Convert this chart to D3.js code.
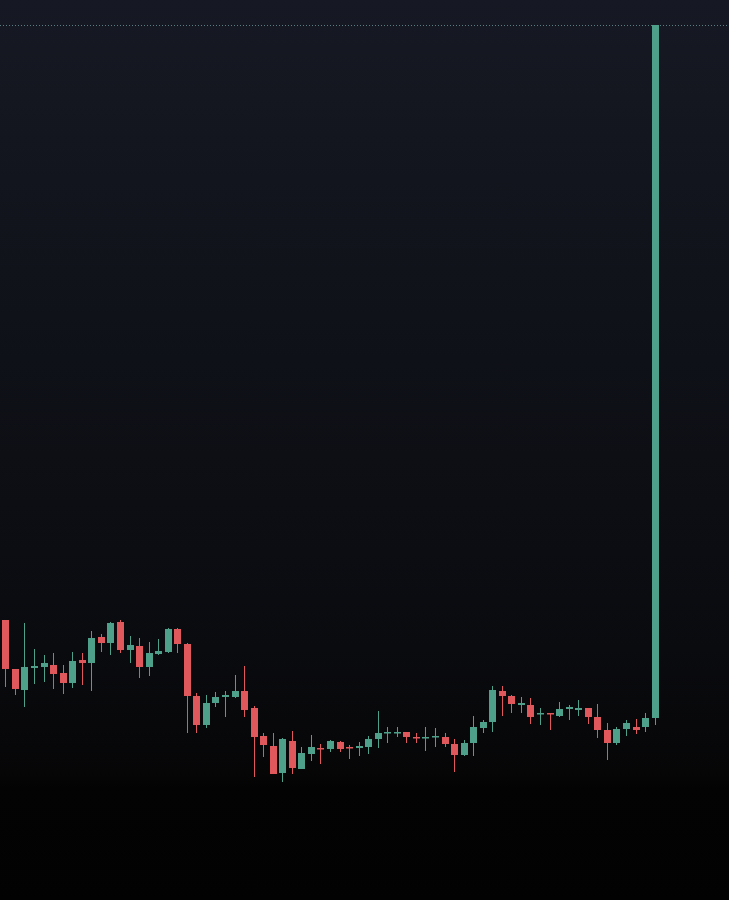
<!DOCTYPE html>
<html>
<head>
<meta charset="utf-8">
<script src="https://cdn.jsdelivr.net/npm/d3@7"></script>
<style>
  html, body { margin: 0; padding: 0; background: #030303; }
  svg { display: block; }
</style>
</head>
<body>
<svg id="chart"></svg>
<script>
var width = 729;
var height = 900;

// candle data (price units)
var opens  = [3.80,3.31,3.10,3.32,3.33,3.35,3.27,3.17,3.40,3.37,3.63,3.57,3.78,3.50,3.54,3.33,3.46,3.48,3.71,3.56,
              3.04,2.75,2.97,3.03,3.03,3.09,2.92,2.64,2.54,2.27,2.59,2.31,2.46,2.52,2.51,2.58,2.53,2.52,2.53,2.61,
              2.67,2.67,2.68,2.63,2.62,2.63,2.63,2.56,2.45,2.57,2.72,2.78,3.09,3.04,2.95,2.95,2.86,2.87,2.84,2.91,
              2.90,2.92,2.83,2.70,2.57,2.71,2.73,2.73,2.82];
var closes = [3.31,3.11,3.33,3.34,3.37,3.26,3.17,3.39,3.37,3.62,3.57,3.77,3.50,3.55,3.33,3.47,3.49,3.71,3.56,3.04,
              2.75,2.97,3.03,3.05,3.09,2.90,2.63,2.55,2.26,2.61,2.32,2.47,2.53,2.51,2.59,2.51,2.52,2.54,2.61,2.67,
              2.68,2.68,2.63,2.62,2.63,2.64,2.56,2.45,2.57,2.73,2.78,3.10,3.04,2.96,2.97,2.83,2.87,2.86,2.91,2.93,
              2.92,2.83,2.70,2.57,2.71,2.77,2.70,2.82,9.75];
var highs  = [3.80,3.31,3.77,3.51,3.45,3.47,3.35,3.48,3.47,3.69,3.66,3.78,3.80,3.64,3.62,3.58,3.61,3.72,3.72,3.57,
              3.07,3.05,3.08,3.09,3.25,3.34,2.94,2.67,2.67,2.62,2.69,2.53,2.65,2.56,2.60,2.59,2.55,2.58,2.64,2.89,
              2.73,2.73,2.68,2.67,2.73,2.72,2.67,2.61,2.60,2.84,2.80,3.14,3.14,3.05,3.03,3.02,2.92,2.87,2.98,2.95,
              3.00,2.92,2.96,2.77,2.73,2.80,2.81,2.87,9.75];
var lows   = [3.13,3.05,2.93,3.16,3.18,3.11,3.06,3.12,3.15,3.09,3.48,3.45,3.47,3.37,3.22,3.24,3.45,3.47,3.47,2.67,
              2.67,2.72,2.93,2.83,3.02,2.83,2.23,2.43,2.26,2.18,2.26,2.31,2.39,2.36,2.48,2.48,2.41,2.44,2.46,2.52,
              2.57,2.63,2.57,2.57,2.49,2.53,2.53,2.28,2.44,2.44,2.67,2.68,2.84,2.87,2.87,2.76,2.75,2.70,2.83,2.80,
              2.84,2.76,2.62,2.40,2.55,2.64,2.66,2.68,2.75];
var markerPrice = 9.75;

var data = opens.map(function(o, i) {
  return { i: i, open: o, close: closes[i], high: highs[i], low: lows[i] };
});

var svg = d3.select('#chart')
  .attr('width', width)
  .attr('height', height);

// background
var defs = svg.append('defs');
var grad = defs.append('linearGradient')
  .attr('id', 'bg')
  .attr('x1', 0).attr('y1', 0).attr('x2', 0).attr('y2', 1);
grad.append('stop').attr('offset', '0%').attr('stop-color', '#161923');
grad.append('stop').attr('offset', '40%').attr('stop-color', '#0f1118');
grad.append('stop').attr('offset', '72%').attr('stop-color', '#0a0b0f');
grad.append('stop').attr('offset', '86%').attr('stop-color', '#060607');
grad.append('stop').attr('offset', '87.5%').attr('stop-color', '#030303');
grad.append('stop').attr('offset', '100%').attr('stop-color', '#020202');

svg.append('rect')
  .attr('width', width)
  .attr('height', height)
  .attr('fill', 'url(#bg)');

var x = d3.scaleBand()
  .domain(data.map(function(d) { return d.i; }))
  .range([-0.8, 660.8])
  .padding(0.3);

var y = d3.scaleLinear()
  .domain([2, 9.75])
  .range([800, 25]);

var green = '#4fa08a';
var red = '#e0585c';

function col(d) { return d.close >= d.open ? green : red; }

// price marker line
svg.append('line')
  .attr('x1', 0).attr('x2', width)
  .attr('y1', y(markerPrice) + 0.5).attr('y2', y(markerPrice) + 0.5)
  .attr('stroke', '#5b7c82')
  .attr('stroke-width', 1)
  .attr('stroke-dasharray', '1,2');

var candles = svg.append('g').selectAll('g')
  .data(data)
  .enter().append('g');

candles.append('line')
  .attr('x1', function(d) { return Math.round(x(d.i) + x.bandwidth() / 2) + 0.5; })
  .attr('x2', function(d) { return Math.round(x(d.i) + x.bandwidth() / 2) + 0.5; })
  .attr('y1', function(d) { return y(d.high); })
  .attr('y2', function(d) { return y(d.low); })
  .attr('stroke', col)
  .attr('stroke-width', 1);

candles.append('rect')
  .attr('x', function(d) { return Math.round(x(d.i) + x.bandwidth() / 2) - 3; })
  .attr('width', 7)
  .attr('y', function(d) { return y(Math.max(d.open, d.close)); })
  .attr('height', function(d) {
    return Math.max(1.5, Math.abs(y(d.open) - y(d.close)));
  })
  .attr('fill', col);
</script>
</body>
</html>
